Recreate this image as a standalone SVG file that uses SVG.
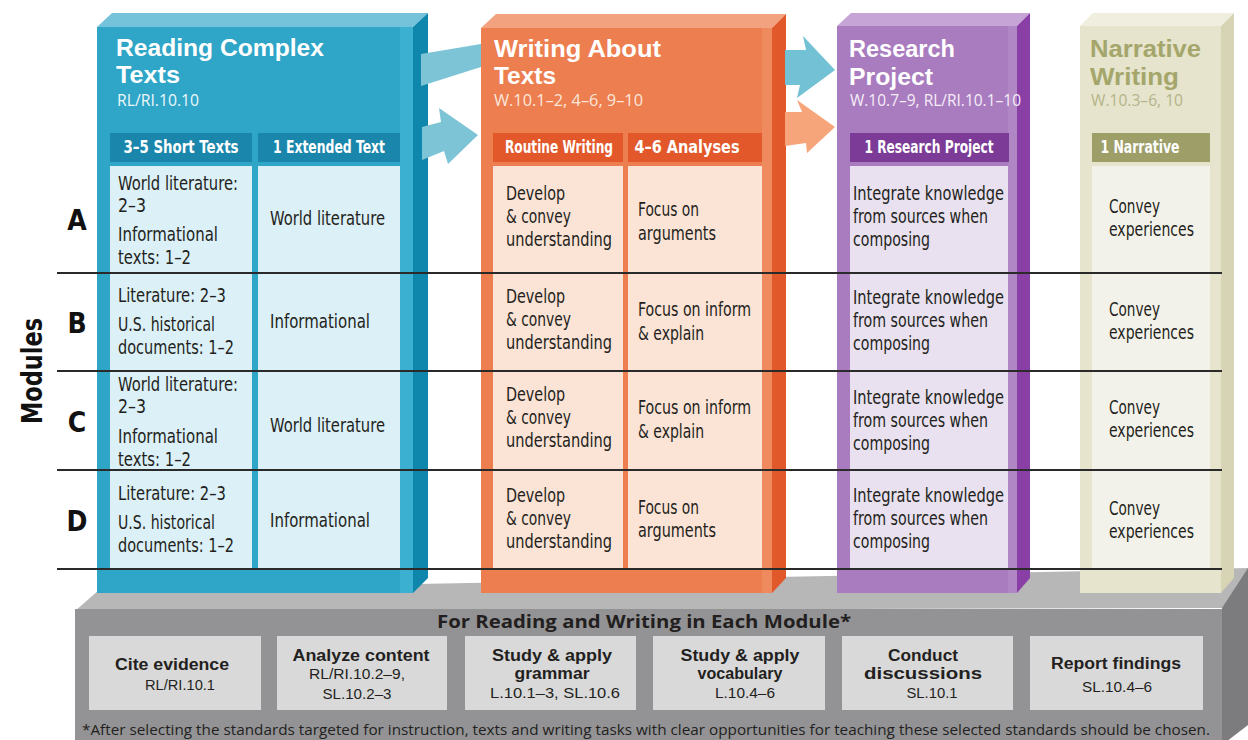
<svg xmlns="http://www.w3.org/2000/svg" width="1248" height="740" viewBox="0 0 1248 740">
<style>
.h{font-family:"Liberation Sans",Arial,sans-serif;font-weight:700;font-size:23px}
.hs{font-family:"Open Sans","Liberation Sans",sans-serif;font-weight:400;font-size:16px}
.bar{font-family:"Liberation Sans Narrow","DejaVu Sans Condensed","Liberation Sans",sans-serif;font-weight:700;font-size:17px;fill:#fff;text-anchor:middle}
.c{font-family:"Liberation Sans Narrow","DejaVu Sans Condensed","Liberation Sans",sans-serif;font-size:19px;fill:#231f20}
.lbl{font-family:"Liberation Sans Narrow","DejaVu Sans Condensed","Liberation Sans",sans-serif;font-weight:700;font-size:28px;fill:#111;text-anchor:middle}
.bt{font-family:"Liberation Sans",Arial,sans-serif;font-weight:700;font-size:16px;fill:#231f20;text-anchor:middle}
.bs{font-family:"Liberation Sans",Arial,sans-serif;font-weight:400;font-size:15px;fill:#231f20;text-anchor:middle}
.bh{font-family:"Open Sans","Liberation Sans",sans-serif;font-weight:700;font-size:18px;fill:#231f20;text-anchor:middle}
.fn{font-family:"Open Sans","Liberation Sans",sans-serif;font-weight:400;font-size:14px;fill:#231f20}
.box{fill:#d9d9d9}
.row{stroke:#2a2a2a;stroke-width:2}
</style>

<!-- base slab -->
<g id="base">
<polygon points="75,611 99,590 1248,568 1248,600 1222,608" fill="#b7b7b7"/>
<polygon points="1222,608 1248,568 1248,725 1222,745" fill="#7c7c7e"/>
<rect x="75" y="609" width="1147" height="131" fill="#939395"/>
<text class="bh" x="644" y="628" textLength="414" lengthAdjust="spacingAndGlyphs">For Reading and Writing in Each Module*</text>
<g id="box-cite"><rect class="box" x="89" y="636" width="172" height="74"/>
<text class="bt" x="172" y="670" textLength="114" lengthAdjust="spacingAndGlyphs">Cite evidence</text>
<text class="bs" x="180" y="690" textLength="70" lengthAdjust="spacingAndGlyphs">RL/RI.10.1</text></g>
<g id="box-analyze"><rect class="box" x="277" y="636" width="170" height="74"/>
<text class="bt" x="361" y="661" textLength="137" lengthAdjust="spacingAndGlyphs">Analyze content</text>
<text class="bs" x="357" y="679" textLength="96" lengthAdjust="spacingAndGlyphs">RL/RI.10.2–9,</text>
<text class="bs" x="357" y="699" textLength="69" lengthAdjust="spacingAndGlyphs">SL.10.2–3</text></g>
<g id="box-grammar"><rect class="box" x="465" y="636" width="171" height="74"/>
<text class="bt" x="552" y="661" textLength="120" lengthAdjust="spacingAndGlyphs">Study &amp; apply</text>
<text class="bt" x="552" y="679" textLength="75" lengthAdjust="spacingAndGlyphs">grammar</text>
<text class="bs" x="555" y="698" textLength="130" lengthAdjust="spacingAndGlyphs">L.10.1–3, SL.10.6</text></g>
<g id="box-vocab"><rect class="box" x="653" y="636" width="172" height="74"/>
<text class="bt" x="740" y="661" textLength="119" lengthAdjust="spacingAndGlyphs">Study &amp; apply</text>
<text class="bt" x="740" y="679" textLength="85" lengthAdjust="spacingAndGlyphs">vocabulary</text>
<text class="bs" x="745" y="698" textLength="60" lengthAdjust="spacingAndGlyphs">L.10.4–6</text></g>
<g id="box-discuss"><rect class="box" x="842" y="636" width="171" height="74"/>
<text class="bt" x="923" y="661" textLength="70" lengthAdjust="spacingAndGlyphs">Conduct</text>
<text class="bt" x="923" y="679" textLength="118" lengthAdjust="spacingAndGlyphs">discussions</text>
<text class="bs" x="932" y="698" textLength="51" lengthAdjust="spacingAndGlyphs">SL.10.1</text></g>
<g id="box-report"><rect class="box" x="1030" y="636" width="173" height="74"/>
<text class="bt" x="1116" y="669" textLength="130" lengthAdjust="spacingAndGlyphs">Report findings</text>
<text class="bs" x="1117" y="692" textLength="70" lengthAdjust="spacingAndGlyphs">SL.10.4–6</text></g>
<text class="fn" x="82" y="735" textLength="1128" lengthAdjust="spacingAndGlyphs">*After selecting the standards targeted for instruction, texts and writing tasks with clear opportunities for teaching these selected standards should be chosen.</text>
</g>

<!-- Reading column -->
<g id="col-reading">
<polygon points="97,27 112,13 428,13 413,27" fill="#74c3da"/>
<polygon points="413,27 428,13 428,578 413,593" fill="#0f86ac"/>
<rect x="97" y="27" width="316" height="566" fill="#2fa5c7"/>
<rect x="400" y="27" width="13" height="566" fill="#3bb0d0"/>
<text class="h" x="116" y="56" fill="#fff" textLength="208" lengthAdjust="spacingAndGlyphs">Reading Complex</text>
<text class="h" x="116" y="83" fill="#fff" textLength="64" lengthAdjust="spacingAndGlyphs">Texts</text>
<text class="hs" x="117" y="106" fill="#eef8fb" textLength="82" lengthAdjust="spacingAndGlyphs">RL/RI.10.10</text>
<rect x="110" y="133" width="142" height="29" fill="#1a86ab"/>
<rect x="258" y="133" width="142" height="29" fill="#1a86ab"/>
<text class="bar" x="181" y="153" textLength="115" lengthAdjust="spacingAndGlyphs">3–5 Short Texts</text>
<text class="bar" x="329" y="153" textLength="112" lengthAdjust="spacingAndGlyphs">1 Extended Text</text>
<rect x="110" y="166" width="142" height="402" fill="#dcf0f7"/>
<rect x="258" y="166" width="142" height="402" fill="#dcf0f7"/>
<text class="c" x="118" y="190" textLength="120" lengthAdjust="spacingAndGlyphs">World literature:</text>
<text class="c" x="118" y="212" textLength="28" lengthAdjust="spacingAndGlyphs">2–3</text>
<text class="c" x="118" y="241" textLength="100" lengthAdjust="spacingAndGlyphs">Informational</text>
<text class="c" x="118" y="264" textLength="73" lengthAdjust="spacingAndGlyphs">texts: 1–2</text>
<text class="c" x="118" y="302" textLength="108" lengthAdjust="spacingAndGlyphs">Literature: 2–3</text>
<text class="c" x="118" y="331" textLength="97" lengthAdjust="spacingAndGlyphs">U.S. historical</text>
<text class="c" x="118" y="354" textLength="116" lengthAdjust="spacingAndGlyphs">documents: 1–2</text>
<text class="c" x="118" y="391" textLength="120" lengthAdjust="spacingAndGlyphs">World literature:</text>
<text class="c" x="118" y="413" textLength="28" lengthAdjust="spacingAndGlyphs">2–3</text>
<text class="c" x="118" y="443" textLength="100" lengthAdjust="spacingAndGlyphs">Informational</text>
<text class="c" x="118" y="466" textLength="73" lengthAdjust="spacingAndGlyphs">texts: 1–2</text>
<text class="c" x="118" y="500" textLength="108" lengthAdjust="spacingAndGlyphs">Literature: 2–3</text>
<text class="c" x="118" y="529" textLength="97" lengthAdjust="spacingAndGlyphs">U.S. historical</text>
<text class="c" x="118" y="552" textLength="116" lengthAdjust="spacingAndGlyphs">documents: 1–2</text>
<text class="c" x="270" y="225" textLength="115" lengthAdjust="spacingAndGlyphs">World literature</text>
<text class="c" x="270" y="328" textLength="100" lengthAdjust="spacingAndGlyphs">Informational</text>
<text class="c" x="270" y="432" textLength="115" lengthAdjust="spacingAndGlyphs">World literature</text>
<text class="c" x="270" y="527" textLength="100" lengthAdjust="spacingAndGlyphs">Informational</text>
</g>

<!-- Writing column -->
<g id="col-writing">
<polygon points="481,28 496,14 786,14 772,28" fill="#f3a27f"/>
<polygon points="772,28 786,14 786,578 772,593" fill="#e1582a"/>
<rect x="481" y="28" width="291" height="565" fill="#ec7e50"/>
<rect x="762" y="28" width="10" height="565" fill="#ef8a5e"/>
<text class="h" x="494" y="57" fill="#fff" textLength="167" lengthAdjust="spacingAndGlyphs">Writing About</text>
<text class="h" x="494" y="84" fill="#fff" textLength="62" lengthAdjust="spacingAndGlyphs">Texts</text>
<text class="hs" x="494" y="106" fill="#fde7da" textLength="149" lengthAdjust="spacingAndGlyphs">W.10.1–2, 4–6, 9–10</text>
<rect x="493" y="133" width="130" height="29" fill="#e2582a"/>
<rect x="628" y="133" width="134" height="29" fill="#e2582a"/>
<text class="bar" x="559" y="153" font-size="15" textLength="108" lengthAdjust="spacingAndGlyphs">Routine Writing</text>
<text class="bar" x="687" y="153" font-size="16" textLength="105" lengthAdjust="spacingAndGlyphs">4–6 Analyses</text>
<rect x="493" y="166" width="130" height="402" fill="#fbe3d5"/>
<rect x="628" y="166" width="134" height="402" fill="#fbe3d5"/>
<text class="c" x="506" y="200" textLength="59" lengthAdjust="spacingAndGlyphs">Develop</text>
<text class="c" x="506" y="223" textLength="65" lengthAdjust="spacingAndGlyphs">&amp; convey</text>
<text class="c" x="506" y="246" textLength="106" lengthAdjust="spacingAndGlyphs">understanding</text>
<text class="c" x="506" y="303" textLength="59" lengthAdjust="spacingAndGlyphs">Develop</text>
<text class="c" x="506" y="326" textLength="65" lengthAdjust="spacingAndGlyphs">&amp; convey</text>
<text class="c" x="506" y="349" textLength="106" lengthAdjust="spacingAndGlyphs">understanding</text>
<text class="c" x="506" y="401" textLength="59" lengthAdjust="spacingAndGlyphs">Develop</text>
<text class="c" x="506" y="424" textLength="65" lengthAdjust="spacingAndGlyphs">&amp; convey</text>
<text class="c" x="506" y="447" textLength="106" lengthAdjust="spacingAndGlyphs">understanding</text>
<text class="c" x="506" y="502" textLength="59" lengthAdjust="spacingAndGlyphs">Develop</text>
<text class="c" x="506" y="525" textLength="65" lengthAdjust="spacingAndGlyphs">&amp; convey</text>
<text class="c" x="506" y="548" textLength="106" lengthAdjust="spacingAndGlyphs">understanding</text>
<text class="c" x="638" y="216" textLength="61" lengthAdjust="spacingAndGlyphs">Focus on</text>
<text class="c" x="638" y="240" textLength="78" lengthAdjust="spacingAndGlyphs">arguments</text>
<text class="c" x="638" y="316" textLength="113" lengthAdjust="spacingAndGlyphs">Focus on inform</text>
<text class="c" x="638" y="340" textLength="66" lengthAdjust="spacingAndGlyphs">&amp; explain</text>
<text class="c" x="638" y="414" textLength="113" lengthAdjust="spacingAndGlyphs">Focus on inform</text>
<text class="c" x="638" y="438" textLength="66" lengthAdjust="spacingAndGlyphs">&amp; explain</text>
<text class="c" x="638" y="514" textLength="61" lengthAdjust="spacingAndGlyphs">Focus on</text>
<text class="c" x="638" y="537" textLength="78" lengthAdjust="spacingAndGlyphs">arguments</text>
</g>

<!-- Research column -->
<g id="col-research">
<polygon points="837,26 851,13 1030,13 1017,26" fill="#c6a5d6"/>
<polygon points="1017,26 1030,13 1030,578 1017,593" fill="#8a3fa7"/>
<rect x="837" y="26" width="180" height="567" fill="#a97cbf"/>
<rect x="1008" y="26" width="9" height="567" fill="#b087c4"/>
<text class="h" x="849" y="57" fill="#fff" textLength="106" lengthAdjust="spacingAndGlyphs">Research</text>
<text class="h" x="849" y="85" fill="#fff" textLength="84" lengthAdjust="spacingAndGlyphs">Project</text>
<text class="hs" x="850" y="106" fill="#f5edf8" textLength="171" lengthAdjust="spacingAndGlyphs">W.10.7–9, RL/RI.10.1–10</text>
<rect x="850" y="133" width="159" height="29" fill="#7c3b97"/>
<text class="bar" x="929" y="153" textLength="129" lengthAdjust="spacingAndGlyphs">1 Research Project</text>
<rect x="850" y="166" width="158" height="402" fill="#e9e1ef"/>
<text class="c" x="853" y="200" textLength="151" lengthAdjust="spacingAndGlyphs">Integrate knowledge</text>
<text class="c" x="853" y="223" textLength="135" lengthAdjust="spacingAndGlyphs">from sources when</text>
<text class="c" x="853" y="246" textLength="77" lengthAdjust="spacingAndGlyphs">composing</text>
<text class="c" x="853" y="304" textLength="151" lengthAdjust="spacingAndGlyphs">Integrate knowledge</text>
<text class="c" x="853" y="327" textLength="135" lengthAdjust="spacingAndGlyphs">from sources when</text>
<text class="c" x="853" y="350" textLength="77" lengthAdjust="spacingAndGlyphs">composing</text>
<text class="c" x="853" y="404" textLength="151" lengthAdjust="spacingAndGlyphs">Integrate knowledge</text>
<text class="c" x="853" y="427" textLength="135" lengthAdjust="spacingAndGlyphs">from sources when</text>
<text class="c" x="853" y="450" textLength="77" lengthAdjust="spacingAndGlyphs">composing</text>
<text class="c" x="853" y="502" textLength="151" lengthAdjust="spacingAndGlyphs">Integrate knowledge</text>
<text class="c" x="853" y="525" textLength="135" lengthAdjust="spacingAndGlyphs">from sources when</text>
<text class="c" x="853" y="548" textLength="77" lengthAdjust="spacingAndGlyphs">composing</text>
</g>

<!-- Narrative column -->
<g id="col-narrative">
<polygon points="1080,26 1093,13 1234,13 1221,26" fill="#efeedf"/>
<polygon points="1221,26 1234,13 1234,578 1221,593" fill="#d6d4b4"/>
<rect x="1080" y="26" width="141" height="567" fill="#e6e4cc"/>
<text class="h" x="1090" y="57" fill="#a4a66b" textLength="111" lengthAdjust="spacingAndGlyphs">Narrative</text>
<text class="h" x="1090" y="85" fill="#a4a66b" textLength="89" lengthAdjust="spacingAndGlyphs">Writing</text>
<text class="hs" x="1091" y="106" fill="#b3b48a" textLength="92" lengthAdjust="spacingAndGlyphs">W.10.3–6, 10</text>
<rect x="1092" y="133" width="118" height="29" fill="#9d9e68"/>
<text class="bar" x="1140" y="153" textLength="79" lengthAdjust="spacingAndGlyphs">1 Narrative</text>
<rect x="1092" y="166" width="118" height="402" fill="#f3f2ea"/>
<text class="c" x="1109" y="213" textLength="51" lengthAdjust="spacingAndGlyphs">Convey</text>
<text class="c" x="1109" y="236" textLength="85" lengthAdjust="spacingAndGlyphs">experiences</text>
<text class="c" x="1109" y="316" textLength="51" lengthAdjust="spacingAndGlyphs">Convey</text>
<text class="c" x="1109" y="339" textLength="85" lengthAdjust="spacingAndGlyphs">experiences</text>
<text class="c" x="1109" y="414" textLength="51" lengthAdjust="spacingAndGlyphs">Convey</text>
<text class="c" x="1109" y="437" textLength="85" lengthAdjust="spacingAndGlyphs">experiences</text>
<text class="c" x="1109" y="515" textLength="51" lengthAdjust="spacingAndGlyphs">Convey</text>
<text class="c" x="1109" y="538" textLength="85" lengthAdjust="spacingAndGlyphs">experiences</text>
</g>

<!-- connectors -->
<g id="connectors">
<polygon points="421,54 481,44 481,67 421,86" fill="#7dc4d6"/>
<polygon points="422,127 441,122 439,108 478,135 448,164 444,151 422,160" fill="#7dc4d6"/>
<polygon points="785,50 806,50 803,36 835,70 797,98 800,85 785,85" fill="#72c1d4"/>
<polygon points="785,112 802,112 797,100 835,127 807,153 806,143 785,146" fill="#f6a57b"/>
</g>

<!-- module rows -->
<g id="rows">
<line class="row" x1="57" y1="273" x2="1222" y2="273"/>
<line class="row" x1="57" y1="371" x2="1222" y2="371"/>
<line class="row" x1="57" y1="470" x2="1222" y2="470"/>
<line class="row" x1="57" y1="569" x2="1222" y2="569"/>
<text class="lbl" x="77" y="230">A</text>
<text class="lbl" x="77" y="333">B</text>
<text class="lbl" x="77" y="432">C</text>
<text class="lbl" x="77" y="531">D</text>
<text class="lbl" transform="translate(42,371) rotate(-90)" font-size="32" textLength="106" lengthAdjust="spacingAndGlyphs">Modules</text>
</g>
</svg>
